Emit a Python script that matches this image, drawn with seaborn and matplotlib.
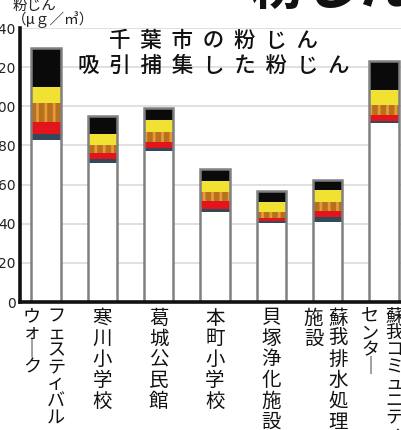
import matplotlib
matplotlib.use("Agg")
import matplotlib.pyplot as plt
import seaborn as sns
import numpy as np
import pandas as pd

# ---- data ----
categories = ["フェスティバルウォーク", "寒川小学校", "葛城公民館", "本町小学校",
              "貝塚浄化施設", "蘇我排水処理施設", "蘇我コミュニティセンター"]
label_columns = [["フェスティバル", "ウォーク"], ["寒川小学校"], ["葛城公民館"],
                 ["本町小学校"], ["貝塚浄化施設"], ["蘇我排水処理", "施設"],
                 ["蘇我コミュニティ", "センター"]]
white_part = [83, 71, 77, 46, 40.5, 41, 91.5]
dark_part = [3, 2, 1.5, 1.5, 1, 2.5, 1]
red_part = [6, 3, 3.5, 4, 1.5, 3, 3]
orange_part = [9.5, 4, 5, 4.5, 3, 4.5, 5]
yellow_part = [8.5, 6, 6, 6, 5, 6, 8]
black_part = [20, 9, 6, 6, 5.5, 5.5, 14.5]
yticks = [0, 20, 40, 60, 80, 100, 120, 140]
title_lines = ["千葉市の粉じん", "吸引捕集した粉じん"]
ylabel_lines = ["粉じん", "（μｇ／㎥）"]
headline = "粉じん"

sns.set_theme(style="white")
plt.rcParams["font.family"] = ["Noto Sans CJK JP", "DejaVu Sans"]
plt.rcParams["hatch.linewidth"] = 2.0

W, H = 402, 430
fig = plt.figure(figsize=(W / 100, H / 100), dpi=100)
ax = fig.add_axes([20 / W, 1 - 302 / H, 382 / W, (302 - 28) / H])

layers = [
    ("white", white_part, "#ffffff", None, "#ffffff"),
    ("dark", dark_part, "#33495a", None, "#33495a"),
    ("red", red_part, "#e3141c", None, "#e3141c"),
    ("orange", orange_part, "#b8701c", "||", "#e39a3c"),
    ("yellow", yellow_part, "#f0e132", None, "#f0e132"),
    ("black", black_part, "#0a0a0a", None, "#0a0a0a"),
]
vals = np.array([l[1] for l in layers], dtype=float)
cum = np.cumsum(vals, axis=0)
df = pd.DataFrame({"cat": categories})
for (name, _, col, hatch, ec), c in zip(layers, cum):
    df[name] = c

# draw tallest first so lower layers overlay
for (name, _, col, hatch, ec) in reversed(layers):
    kw = {}
    if hatch:
        kw["hatch"] = hatch
    sns.barplot(data=df, x="cat", y=name, color=col, saturation=1, width=0.52,
                linewidth=0, edgecolor=ec, ax=ax, order=categories, **kw)

# outline
sns.barplot(data=df, x="cat", y="black", color="#808080", fill=False,
            width=0.52, linewidth=1.8, ax=ax, order=categories)

ax.set_xlim(-0.46, 6.32)
ax.set_ylim(0, 140)
ax.set_yticks(yticks)
ax.set_yticklabels([str(t) for t in yticks], fontsize=10, color="#222222",
                   family=["DejaVu Sans"])
ax.set_xticks(range(len(categories)))
ax.set_xticklabels([])
ax.set_xlabel("")
ax.set_ylabel("")
ax.tick_params(axis="both", length=0, pad=3)
ax.yaxis.grid(True, color="#dddddd", linewidth=1.3)
ax.set_axisbelow(True)
for s in ["top", "right"]:
    ax.spines[s].set_visible(False)
for s in ["left", "bottom"]:
    ax.spines[s].set_color("#111111")
    ax.spines[s].set_linewidth(2.6)

# vertical (tategaki) category labels
def vert(s):
    return "\n".join("｜" if ch == "ー" else ch for ch in s)

def has_kana(s):
    return any("\u30a0" <= ch <= "\u30ff" for ch in s)

for i, cols in enumerate(label_columns):
    offs = [0.0] if len(cols) == 1 else [0.18, -0.25]
    for col, off in zip(cols, offs):
        if has_kana(col):
            fs, ls = 13, 0.92
        else:
            fs, ls = 14, 0.99
        ax.annotate(vert(col), xy=(i + off, 0), xycoords=("data", "axes fraction"),
                    xytext=(0, -4), textcoords="offset points",
                    ha="center", va="top", fontsize=fs, linespacing=ls,
                    color="#111111", annotation_clip=False)

# title inside plot
for k, line in enumerate(title_lines):
    fig.text(214 / W, 1 - (41 + 25 * k) / H, "  ".join(line), ha="center",
             va="center", fontsize=15.5, fontweight="medium", color="#111111")

# y label (top-left)
fig.text(13 / W, 1 - 6 / H, ylabel_lines[0], ha="left", va="center",
         fontsize=10.5, color="#222222")
fig.text(12 / W, 1 - 20 / H, ylabel_lines[1], ha="left", va="center",
         fontsize=10.5, color="#222222")

# clipped big headline
fig.text(250 / W, 1 - 4 / H, headline, ha="left", va="baseline",
         fontsize=40, fontweight="bold", color="#111111")

fig.savefig("out.png", dpi=100)
